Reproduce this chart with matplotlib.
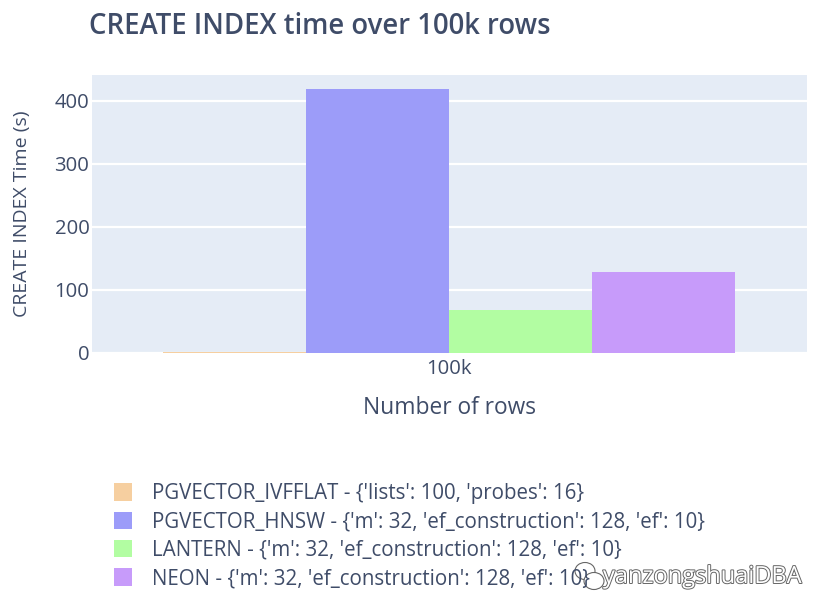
import matplotlib
matplotlib.use("Agg")
import matplotlib.pyplot as plt
import matplotlib.patheffects as pe
from matplotlib.patches import Ellipse

plt.rcParams['font.family'] = ['Open Sans', 'DejaVu Sans']

categories = ["100k"]
series_names = [
    "PGVECTOR_IVFFLAT - {'lists': 100, 'probes': 16}",
    "PGVECTOR_HNSW - {'m': 32, 'ef_construction': 128, 'ef': 10}",
    "LANTERN - {'m': 32, 'ef_construction': 128, 'ef': 10}",
    "NEON - {'m': 32, 'ef_construction': 128, 'ef': 10}",
]
series_values = [1.5, 418, 68, 128]
series_colors = ["#f6cfa0", "#9c9cf9", "#b2fda2", "#c79bfa"]
yticks = [0, 100, 200, 300, 400]
title = "CREATE INDEX time over 100k rows"
xlabel = "Number of rows"
ylabel = "CREATE INDEX Time (s)"

W, H = 831, 615
TXT = "#3f4c68"
fig = plt.figure(figsize=(W / 100, H / 100), dpi=100, facecolor="white")
ax = fig.add_axes([91.5 / W, 1 - 353 / H, 715 / W, 278 / H], facecolor="#e5ecf6")

bw = 0.2
for i, (v, c, n) in enumerate(zip(series_values, series_colors, series_names)):
    ax.bar(-0.4 + bw * (i + 0.5), v, width=bw, color=c, label=n, linewidth=0, zorder=3)

ax.set_xlim(-0.5, 0.5)
ax.set_ylim(0, 441)
ax.set_xticks([0])
ax.set_xticklabels(categories)
ax.set_yticks(yticks)
ax.grid(axis="y", color="white", linewidth=1.6, zorder=1)
ax.set_axisbelow(True)
for s in ax.spines.values():
    s.set_visible(False)
ax.tick_params(length=0, labelsize=14.6, colors=TXT)
ax.tick_params(axis="x", pad=4)
ax.tick_params(axis="y", pad=1.5)

fig.text(89 / W, 1 - 27 / H, title, fontsize=19.8, color=TXT, fontweight="semibold",
         ha="left", va="center")
fig.text(449 / W, 1 - 408 / H, xlabel, fontsize=16.4, color=TXT, ha="center", va="center")
fig.text(22 / W, 1 - 214 / H, ylabel, fontsize=14.0, color=TXT, rotation=90,
         ha="center", va="center")

handles, labels = ax.get_legend_handles_labels()
fig.legend(handles, labels, loc="upper left", bbox_to_anchor=(114 / W, 1 - 483 / H),
           frameon=False, fontsize=14.8, labelcolor=TXT, handlelength=0.88, handleheight=0.93,
           handletextpad=0.97, labelspacing=0.36, borderaxespad=0, borderpad=0)

fig.add_artist(Ellipse((585 / W, 1 - 571 / H), 20 / W, 17 / H, transform=fig.transFigure,
                       facecolor="white", edgecolor="#666666", linewidth=0.8))
fig.add_artist(Ellipse((594 / W, 1 - 581 / H), 20 / W, 17 / H, transform=fig.transFigure,
                       facecolor="white", edgecolor="#666666", linewidth=0.8))
fig.text(603 / W, 1 - 577 / H, "yanzongshuaiDBA", fontsize=17, color="white",
         ha="left", va="center",
         path_effects=[pe.withStroke(linewidth=1.4, foreground="#666666")])

fig.savefig("out.png", dpi=100)
